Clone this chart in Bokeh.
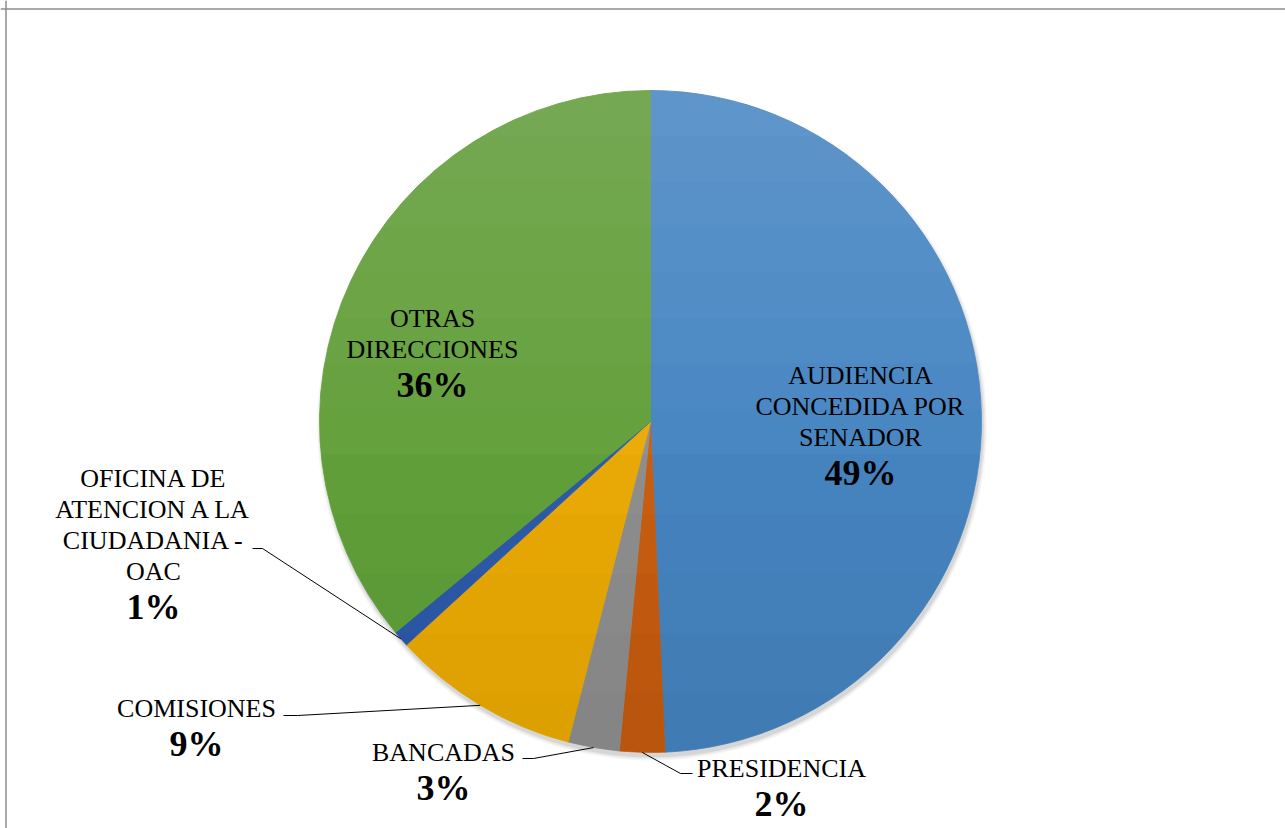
import math
import numpy as np
from bokeh.plotting import figure
from bokeh.models import Range1d, Span, ColumnDataSource
from bokeh.core.properties import value
from bokeh.embed import file_html
from bokeh.resources import INLINE

# ---------------- data ----------------
categories = [
    "AUDIENCIA\nCONCEDIDA POR\nSENADOR",
    "PRESIDENCIA",
    "BANCADAS",
    "COMISIONES",
    "OFICINA DE\nATENCION A LA\nCIUDADANIA -\nOAC",
    "OTRAS\nDIRECCIONES",
]
shares = [49.3, 2.2, 2.5, 9.2, 0.8, 36.0]
colors = ["#4685C2", "#C95F12", "#8F8F8F", "#EBAB06", "#2E5CA9", "#62A03A"]

# ---------------- layout (screen px) ----------------
W, H = 1285, 828
OX, OY = 0, 828  # data x = sx, data y = H - sy


def X(sx):
    return sx - OX


def Y(sy):
    return OY - sy


CX, CY, R = X(650), Y(421), 331.0

# label anchor: (center x, first line y) in screen px
label_pos = [(860, 375), (781, 768), (443, 752), (196, 708), (153, 478), (432, 318)]
# leader line knees/ends (screen px) for outside labels, None when inside
leaders = [None, [(680, 773), (692, 773)], [(533, 758), (522, 758)],
           [(297, 715), (283, 715)], [(262, 548), (252, 548)], None]
LINE_H = 31
PCT_GAP = 35

p = figure(width=W, height=H, x_range=Range1d(0, W), y_range=Range1d(0, H),
           output_backend="svg", toolbar_location=None, min_border=0)
p.axis.visible = False
p.grid.visible = False
p.outline_line_color = None
p.background_fill_color = "white"
p.border_fill_color = "white"

# chart area frame (top and left edges visible)
p.add_layout(Span(location=Y(8.5), dimension="width", line_color="#8c8c8c", line_width=1.5))
p.add_layout(Span(location=X(5.5), dimension="height", line_color="#8c8c8c", line_width=1.5))

# soft shadow
for k, a in [(4.0, 0.035), (2.5, 0.05), (1.0, 0.08)]:
    p.circle(x=[CX + 1.5], y=[CY - 4], radius=R + k, fill_color="black", fill_alpha=a, line_color=None)

# wedges
total = float(sum(shares))
fr = [s / total for s in shares]
cum = np.concatenate([[0.0], np.cumsum(fr)])
start_a = [math.pi / 2 - 2 * math.pi * cum[i + 1] for i in range(len(fr))]
end_a = [math.pi / 2 - 2 * math.pi * cum[i] for i in range(len(fr))]
src = ColumnDataSource(dict(x=[CX] * len(fr), y=[CY] * len(fr), s=start_a, e=end_a, c=colors))
p.wedge(x="x", y="y", radius=R, start_angle="s", end_angle="e", fill_color="c",
        line_color="c", line_width=0.8, source=src)


# vertical gradient overlay (lighter top, darker bottom)
def cap(ycut, top=True, n=200):
    sc = max(-1.0, min(1.0, (ycut - CY) / R))
    tc = math.asin(sc)
    if top:
        th = np.linspace(tc, math.pi - tc, n)
    else:
        th = np.linspace(math.pi - tc, 2 * math.pi + tc, n)
    return list(CX + R * np.cos(th)), list(CY + R * np.sin(th))


NW, NB = 8, 5
wx, wy, bx, by = [], [], [], []
for i in range(1, NW + 1):
    xs, ys = cap(CY + R - (i / NW) * 1.1 * R, top=True)
    wx.append(xs); wy.append(ys)
for i in range(1, NB + 1):
    xs, ys = cap(CY - R + (i / NB) * 0.9 * R, top=False)
    bx.append(xs); by.append(ys)
p.patches(xs=wx, ys=wy, fill_color="white", fill_alpha=0.02, line_color=None)
p.patches(xs=bx, ys=by, fill_color="black", fill_alpha=0.012, line_color=None)

# leader lines
for i, ld in enumerate(leaders):
    if ld is None:
        continue
    mid = math.pi / 2 - 2 * math.pi * (cum[i] + cum[i + 1]) / 2
    xs = [CX + R * math.cos(mid)] + [X(a) for a, b in ld]
    ys = [CY + R * math.sin(mid)] + [Y(b) for a, b in ld]
    p.line(xs, ys, line_color="black", line_width=1)

# labels
font = value("Times New Roman")
for i, cat in enumerate(categories):
    lx, ly = label_pos[i]
    lines = cat.split("\n")
    for j, ln in enumerate(lines):
        p.text(x=[X(lx)], y=[Y(ly + j * LINE_H)], text=[ln], text_font=font,
               text_font_size="26px", text_color="black", text_align="center",
               text_baseline="middle")
    pct = "%d%%" % math.floor(fr[i] * 100 + 0.5)
    py = ly + (len(lines) - 1) * LINE_H + PCT_GAP
    p.text(x=[X(lx)], y=[Y(py)], text=[pct], text_font=font, text_font_size="36px",
           text_font_style="bold", text_color="black", text_align="center",
           text_baseline="middle")

open("out.html", "w").write(file_html(p, INLINE))
